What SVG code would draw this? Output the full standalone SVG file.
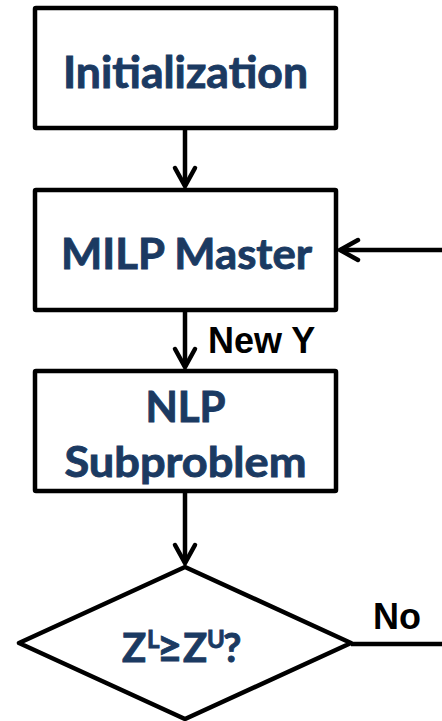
<svg xmlns="http://www.w3.org/2000/svg" width="442" height="721" viewBox="0 0 442 721">
<style>
.box{fill:#fff;stroke:#000;stroke-width:4.5;stroke-linejoin:round}
.lbl{font-family:Lato,"Open Sans","Liberation Sans",sans-serif;font-weight:bold;fill:#1b3a62;stroke:#1b3a62;stroke-width:0.9;text-anchor:middle}
.edge{fill:none;stroke:#000;stroke-width:4.5}
.head{fill:none;stroke:#000;stroke-width:4.5;stroke-linecap:round;stroke-linejoin:miter}
.el{font-family:"Liberation Sans",Arial,sans-serif;font-weight:bold;fill:#000;font-size:36px}
</style>
<rect width="442" height="721" fill="#fff"/>
<g id="init"><rect class="box" x="35" y="8" width="301" height="120" rx="1"/><text class="lbl" x="185.5" y="88" font-size="43" textLength="245" lengthAdjust="spacingAndGlyphs">Initialization</text></g>
<g id="milp"><rect class="box" x="35" y="190" width="301" height="120" rx="1"/><text class="lbl" x="186.5" y="269" font-size="42" textLength="251" lengthAdjust="spacingAndGlyphs">MILP Master</text></g>
<g id="nlp"><rect class="box" x="35" y="371" width="301" height="120" rx="1"/><text class="lbl" x="185.5" y="422" font-size="42">NLP</text><text class="lbl" x="185.5" y="477" font-size="42" textLength="242" lengthAdjust="spacingAndGlyphs">Subproblem</text></g>
<g id="decision"><polygon class="box" points="185,567 19,643 185,719 351,643"/><text class="lbl" style="text-anchor:start" font-size="40"><tspan x="122" y="662">Z</tspan><tspan x="147" y="648" font-size="24">L</tspan><tspan x="157" y="663" font-size="44">≥</tspan><tspan x="183" y="662">Z</tspan><tspan x="207" y="648" font-size="24">U</tspan><tspan x="223" y="662">?</tspan></text></g>
<g id="connectors">
<path class="edge" d="M185,130 V186"/><path class="head" d="M175,168 L185,186 L195,168"/>
<path class="edge" d="M185,312 V367"/><path class="head" d="M175,349 L185,367 L195,349"/>
<text class="el" x="208" y="353">New Y</text>
<path class="edge" d="M185,493 V563"/><path class="head" d="M175,545 L185,563 L195,545"/>
<path class="edge" d="M351,644 H445 V250 H340"/><path class="head" d="M358,240 L340,250 L358,260"/>
<text class="el" x="373" y="629">No</text>
</g>
</svg>
